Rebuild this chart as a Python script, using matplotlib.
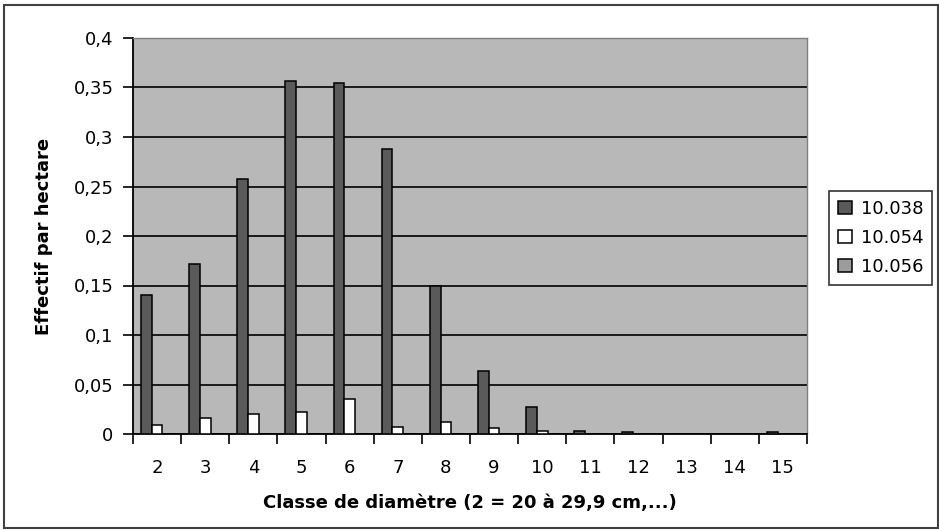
import numpy as np
import matplotlib.pyplot as plt
from matplotlib.patches import Rectangle

plt.rcParams['font.family'] = ['DejaVu Sans']

# data
classes = ['2', '3', '4', '5', '6', '7', '8', '9', '10', '11', '12', '13', '14', '15']
s_10038 = [0.140, 0.172, 0.258, 0.357, 0.355, 0.288, 0.150, 0.064, 0.027, 0.003, 0.002, 0.0, 0.0, 0.002]
s_10054 = [0.009, 0.016, 0.020, 0.022, 0.035, 0.007, 0.012, 0.006, 0.003, 0.0, 0.0, 0.0, 0.0, 0.0]
s_10056 = [0.0] * 14
series = [("10.038", s_10038, "#5a5a5a"),
          ("10.054", s_10054, "#ffffff"),
          ("10.056", s_10056, "#9c9c9c")]

fig = plt.figure(figsize=(9.39, 5.30), dpi=100)
ax = fig.add_axes([133 / 939, 1 - 434 / 530, (807 - 133) / 939, (434 - 38) / 530])
ax.set_facecolor("#b8b8b8")

x = np.arange(len(classes))
w = 1 / 4.5
for i, (name, vals, col) in enumerate(series):
    ax.bar(x + (i - 1) * w, vals, w, color=col, edgecolor="black", linewidth=1.1,
           label=name, zorder=3)

ax.set_xlim(-0.5, len(classes) - 0.5)
ax.set_ylim(0, 0.4)
ax.set_yticks(np.arange(0, 0.401, 0.05))
ax.set_yticklabels(["0", "0,05", "0,1", "0,15", "0,2", "0,25", "0,3", "0,35", "0,4"])
ax.yaxis.grid(True, color="black", linewidth=1.2, zorder=1)
ax.set_axisbelow(True)

# ticks between categories, labels at centers
ax.set_xticks(np.arange(-0.5, len(classes), 1.0))
ax.set_xticklabels([])
ax.set_xticks(x, minor=True)
ax.set_xticklabels(classes, minor=True)
ax.tick_params(axis="x", which="major", length=7, width=1.2, direction="out")
ax.tick_params(axis="x", which="minor", length=0, pad=18, labelsize=13)
ax.tick_params(axis="y", length=7, width=1.2, direction="out", pad=7, labelsize=13)

for side in ["left", "bottom"]:
    ax.spines[side].set_color("black")
    ax.spines[side].set_linewidth(1.3)
for side in ["top", "right"]:
    ax.spines[side].set_color("#808080")
    ax.spines[side].set_linewidth(1.0)

ax.set_xlabel("Classe de diamètre (2 = 20 à 29,9 cm,...)", fontsize=13,
              fontweight="bold", labelpad=12)
ax.set_ylabel("Effectif par hectare", fontsize=13, fontweight="bold", labelpad=15)

leg = fig.legend(loc="center left", bbox_to_anchor=(829 / 939, 1 - 238 / 530),
                 fontsize=13, frameon=True, fancybox=False, handlelength=0.75,
                 handleheight=0.75, handletextpad=0.5, labelspacing=0.6,
                 borderpad=0.5, borderaxespad=0)
leg.get_frame().set_edgecolor("black")
leg.get_frame().set_linewidth(1.2)

fig.patches.append(Rectangle((4 / 939, 2 / 530), 934 / 939, 523 / 530,
                             transform=fig.transFigure, fill=False,
                             edgecolor="#404040", linewidth=1.5))

fig.savefig("out.png", dpi=100)
